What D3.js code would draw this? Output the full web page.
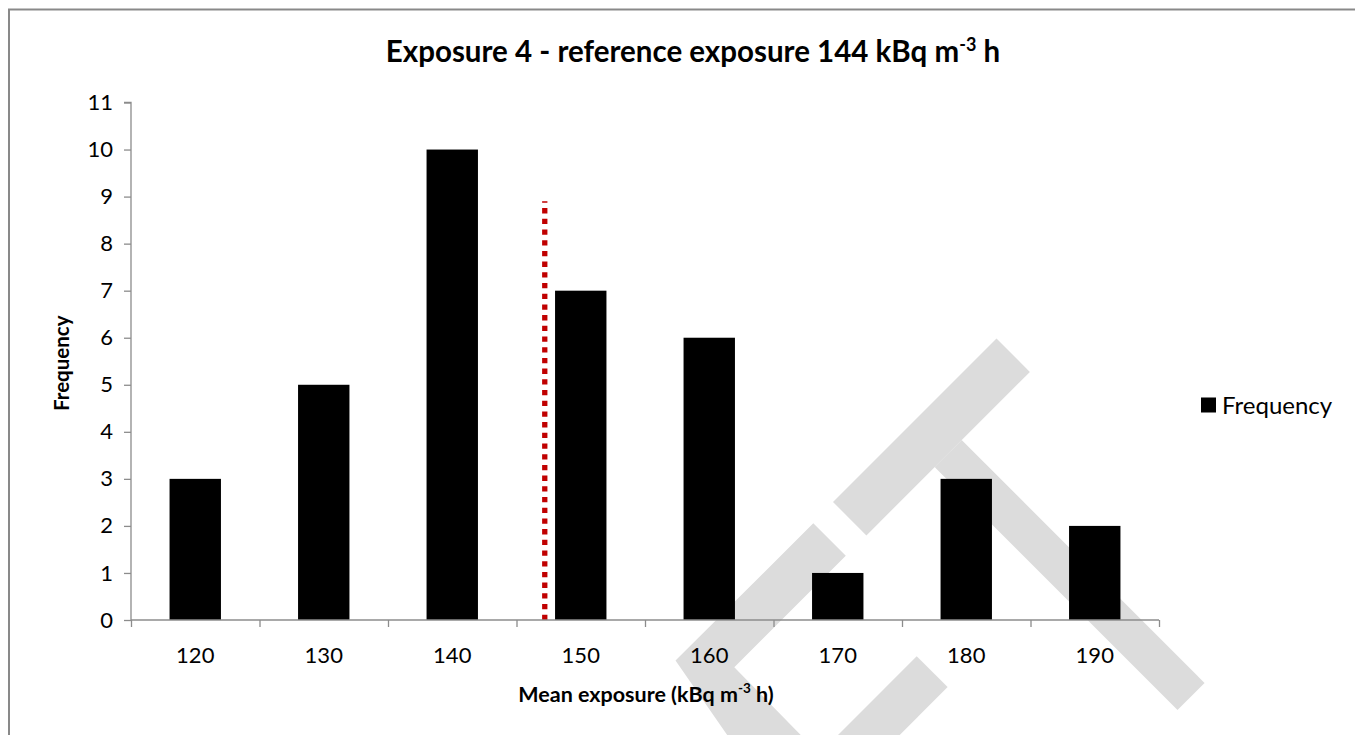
<!DOCTYPE html>
<html>
<head>
<meta charset="utf-8">
<script src="https://cdn.jsdelivr.net/npm/d3@7"></script>
<style>
  html, body { margin: 0; padding: 0; background: #ffffff; }
  svg { display: block; }
  text { font-family: Lato, "Open Sans", sans-serif; fill: #000; }
</style>
</head>
<body>
<svg id="chart" width="1355" height="735"></svg>
<script>
// ---- data ----
const categories = ["120", "130", "140", "150", "160", "170", "180", "190"];
const frequency  = [3, 5, 10, 7, 6, 1, 3, 2];
const yTicks     = [0, 1, 2, 3, 4, 5, 6, 7, 8, 9, 10, 11];
const binEdges   = [115, 125, 135, 145, 155, 165, 175, 185, 195];
const refLine    = { x: 147.2, top: 8.9 };   // red dotted marker
const titleMain  = "Exposure 4 - reference exposure 144 kBq m";
const titleSup   = "-3";
const titleEnd   = " h";
const xLabelMain = "Mean exposure (kBq m";
const xLabelEnd  = " h)";
const yLabel     = "Frequency";
const legendName = "Frequency";

// ---- layout ----
const plot = { left: 131, right: 1159, top: 102.5, bottom: 620 };
const axisColor = "#8c8c8c";
const svg = d3.select("#chart");

// watermark (decorative, behind everything)
const wm = svg.append("g").attr("fill", "#dcdcdc");
const bandPolys = [
  [[996.5,338.5],[1029.9,371.9],[866.4,535.4],[833,502]],
  [[961.7,440],[1204.6,682.9],[1177.5,710],[934.6,467.1]],
  [[813.3,523.3],[845.8,555.8],[734.3,667.3],[800,734.3],[853,787],[800,840],[675.5,660.5]],
  [[916.7,656.3],[947.6,687.1],[834.7,800],[773,800]]
];
bandPolys.forEach(p => wm.append("polygon").attr("points", p.map(d => d.join(",")).join(" ")));

// outer frame
svg.append("rect").attr("x", 9).attr("y", 9.5).attr("width", 1400).attr("height", 800)
  .attr("fill", "none").attr("stroke", "#898989").attr("stroke-width", 2);

// scales
const x = d3.scaleBand().domain(categories).range([plot.left, plot.right])
  .paddingInner(0.6).paddingOuter(0.3);
const xLin = d3.scaleLinear().domain([binEdges[0], binEdges[binEdges.length - 1]])
  .range([plot.left, plot.right]);
const y = d3.scaleLinear().domain([0, 11]).range([plot.bottom, plot.top]);

// bars
svg.append("g").selectAll("rect").data(frequency).join("rect")
  .attr("x", (d, i) => x(categories[i]))
  .attr("width", x.bandwidth())
  .attr("y", d => y(d))
  .attr("height", d => y(0) - y(d))
  .attr("fill", "#000");

// reference dotted line
svg.append("line")
  .attr("x1", xLin(refLine.x)).attr("x2", xLin(refLine.x))
  .attr("y1", y(0)).attr("y2", y(refLine.top))
  .attr("stroke", "#c00000").attr("stroke-width", 5.3)
  .attr("stroke-dasharray", "5.3,5.4");

// y axis
const yAxis = svg.append("g").attr("transform", `translate(${plot.left},0)`)
  .call(d3.axisLeft(y).tickValues(yTicks).tickSize(7).tickPadding(11).tickFormat(d3.format("d")));
yAxis.selectAll("path, line").attr("stroke", axisColor).attr("stroke-width", 1.3);
yAxis.select(".domain").attr("d", `M-7,${plot.top}H0V${plot.bottom}`);
yAxis.selectAll("text").style("font-family", "Lato").style("font-size", "22px").attr("fill", "#000");

// x axis: tick marks at bin boundaries
const xAxisTicks = svg.append("g").attr("transform", `translate(0,${plot.bottom})`)
  .call(d3.axisBottom(xLin).tickValues(binEdges).tickSize(7).tickFormat(""));
xAxisTicks.selectAll("path, line").attr("stroke", axisColor).attr("stroke-width", 1.3);
xAxisTicks.select(".domain").attr("d", `M${plot.left},0H${plot.right}`);

// x axis labels (categories)
const xAxisLabels = svg.append("g").attr("transform", `translate(0,${plot.bottom})`)
  .call(d3.axisBottom(x).tickSize(0).tickPadding(27));
xAxisLabels.select(".domain").remove();
xAxisLabels.selectAll("text").style("font-family", "Lato").style("font-size", "22px").attr("fill", "#000");

// title
const title = svg.append("text").attr("x", 693).attr("y", 62).attr("text-anchor", "middle")
  .style("font-weight", "bold").style("font-size", "29.5px");
title.append("tspan").text(titleMain);
title.append("tspan").text(titleSup).attr("dy", -11).style("font-size", "18px");
title.append("tspan").text(titleEnd).attr("dy", 11);

// x axis title
const xt = svg.append("text").attr("x", 646).attr("y", 702)
  .attr("text-anchor", "middle").style("font-weight", "bold").style("font-size", "21.5px");
xt.append("tspan").text(xLabelMain);
xt.append("tspan").text(titleSup).attr("dy", -9).style("font-size", "13.5px");
xt.append("tspan").text(xLabelEnd).attr("dy", 9);

// y axis title
svg.append("text").attr("transform", `translate(69,${(plot.top + plot.bottom) / 2 + 2}) rotate(-90)`)
  .attr("text-anchor", "middle").style("font-weight", "bold").style("font-size", "20.5px")
  .text(yLabel);

// legend
const lg = svg.append("g");
lg.append("rect").attr("x", 1201).attr("y", 397.5).attr("width", 15).attr("height", 15).attr("fill", "#000");
lg.append("text").attr("x", 1222).attr("y", 413.5).style("font-size", "24px").text(legendName);
</script>
</body>
</html>
